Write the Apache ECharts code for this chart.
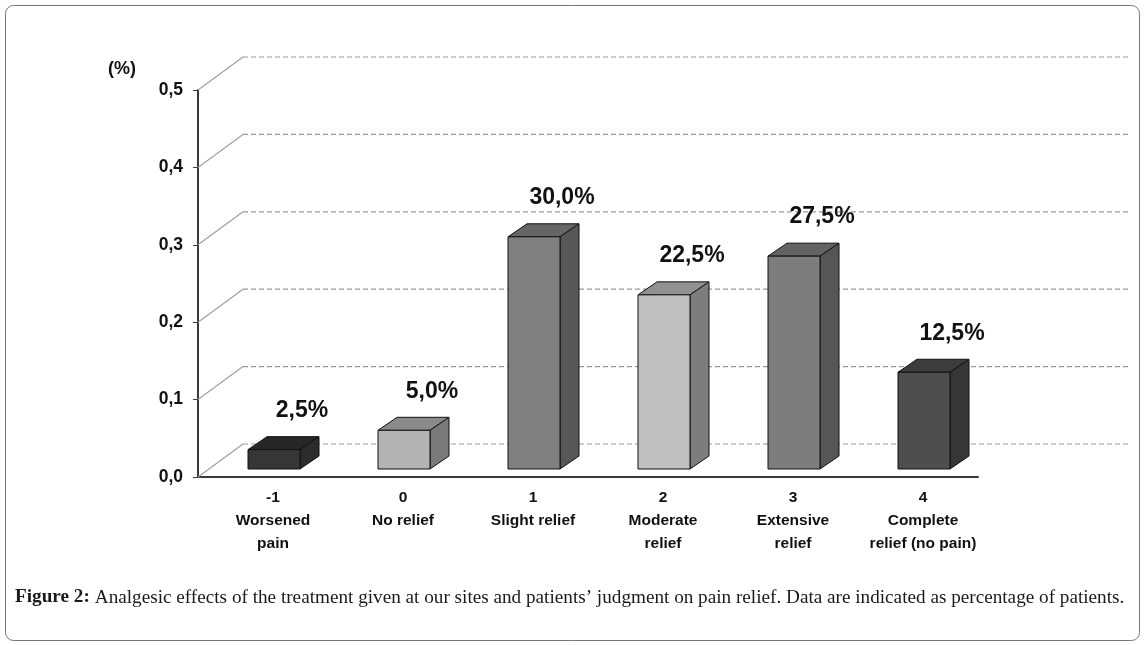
<!DOCTYPE html>
<html>
<head>
<meta charset="utf-8">
<script src="https://cdn.jsdelivr.net/npm/echarts@6/dist/echarts.min.js"></script>
<style>
html, body { margin: 0; padding: 0; background: #fff; }
#chart { width: 1144px; height: 645px; }
</style>
</head>
<body>
<div id="chart"></div>
<script>
var categories = ['-1', '0', '1', '2', '3', '4'];
var categoryNames = ['Worsened\npain', 'No relief', 'Slight relief', 'Moderate\nrelief', 'Extensive\nrelief', 'Complete\nrelief (no pain)'];
var shares = [0.025, 0.05, 0.30, 0.225, 0.275, 0.125];
var shareLabels = ['2,5%', '5,0%', '30,0%', '22,5%', '27,5%', '12,5%'];
var yTicks = [0, 0.1, 0.2, 0.3, 0.4, 0.5];
var yTickLabels = ['0,0', '0,1', '0,2', '0,3', '0,4', '0,5'];

// front / top / side shades for each box
var faceColors = [
	['#363636', '#262626', '#2c2c2c'],
	['#b3b3b3', '#8a8a8a', '#7a7a7a'],
	['#808080', '#666666', '#575757'],
	['#c0c0c0', '#919191', '#7d7d7d'],
	['#7d7d7d', '#636363', '#565656'],
	['#4e4e4e', '#3c3c3c', '#363636']
];

var depthX = 45, depthY = -33;   // wall depth
var boxX = 19, boxY = -13;       // box depth
var shiftX = 11, shiftY = -8;    // boxes sit a little into the floor
var boxW = 52;

function renderWall(params, api) {
	var rect = params.coordSys;
	var p = api.coord([0, api.value(0)]);
	var x0 = rect.x, y0 = p[1];
	return {
		type: 'group',
		children: [{
			type: 'line',
			shape: { x1: x0, y1: y0, x2: x0 + depthX, y2: y0 + depthY },
			style: { stroke: '#a0a0a0', lineWidth: 1.2 }
		}, {
			type: 'line',
			shape: { x1: x0 + depthX, y1: y0 + depthY, x2: 1130, y2: y0 + depthY },
			style: { stroke: '#9a9a9a', lineWidth: 1.2, lineDash: [5, 3] }
		}]
	};
}

function renderBox(params, api) {
	var i = api.value(0);
	var base = api.coord([i, 0]);
	var top = api.coord([i, api.value(1)]);
	var c = faceColors[i];
	var fl = base[0] - boxW / 2 + shiftX;
	var fr = fl + boxW;
	var fb = base[1] + shiftY;
	var ft = top[1] + shiftY;
	var st = { stroke: '#111', lineWidth: 1 };
	return {
		type: 'group',
		children: [{
			type: 'polygon',
			shape: { points: [[fl, ft], [fl + boxX, ft + boxY], [fr + boxX, ft + boxY], [fr, ft]] },
			style: Object.assign({ fill: c[1] }, st)
		}, {
			type: 'polygon',
			shape: { points: [[fr, ft], [fr + boxX, ft + boxY], [fr + boxX, fb + boxY], [fr, fb]] },
			style: Object.assign({ fill: c[2] }, st)
		}, {
			type: 'rect',
			shape: { x: fl, y: ft, width: boxW, height: fb - ft },
			style: Object.assign({ fill: c[0] }, st)
		}, {
			type: 'text',
			x: fr + 2,
			y: ft + boxY - 26,
			style: {
				text: shareLabels[i],
				fill: '#111',
				font: 'bold 23px "Liberation Sans", Arial, sans-serif',
				align: 'center',
				verticalAlign: 'middle'
			}
		}]
	};
}

var chart = echarts.init(document.getElementById('chart'));
var option = {
	animation: false,
	title: {
		left: 15,
		top: 588,
		padding: 0,
		text: '{b|Figure 2:} {n|Analgesic effects of the treatment given at our sites and patients\u2019 judgment on pain relief. Data are indicated as percentage of patients.}',
		textStyle: {
			fontWeight: 'normal',
			rich: {
				b: { fontFamily: '"Liberation Serif", serif', fontWeight: 'bold', fontSize: 19.2, color: '#1a1a1a' },
				n: { fontFamily: '"Liberation Serif", serif', fontWeight: 'normal', fontSize: 19.2, color: '#1a1a1a' }
			}
		}
	},
	graphic: [{
		type: 'rect',
		shape: { x: 5.5, y: 5.5, width: 1134, height: 635, r: 8 },
		style: { fill: 'none', stroke: '#777', lineWidth: 1 },
		z: -1
	}, {
		type: 'text',
		left: 108,
		top: 60,
		style: { text: '(%)', font: 'bold 18px "Liberation Sans", Arial, sans-serif', fill: '#111' }
	}],
	grid: { left: 198, top: 90, width: 780, height: 387 },
	xAxis: {
		type: 'category',
		data: categories,
		axisLine: { lineStyle: { color: '#3a3a3a', width: 2 } },
		axisTick: { length: 4, lineStyle: { color: '#3a3a3a' } },
		axisLabel: {
			interval: 0,
			margin: 9,
			formatter: function(value, idx) {
				var lines = [value].concat(categoryNames[idx].split('\n'));
				return lines.map(function(l) { return '{a|' + l + '}'; }).join('\n');
			},
			rich: {
				a: {
					fontFamily: '"Liberation Sans", Arial, sans-serif',
					fontWeight: 'bold',
					fontSize: 15.5,
					color: '#111',
					lineHeight: 23,
					padding: [0, 0, 0, 20]
				}
			}
		},
		splitLine: { show: false }
	},
	yAxis: {
		type: 'value',
		min: 0,
		max: 0.5,
		interval: 0.1,
		axisLine: { show: true, lineStyle: { color: '#3a3a3a', width: 2 } },
		axisTick: { show: true, length: 5, lineStyle: { color: '#3a3a3a' } },
		axisLabel: {
			margin: 15,
			fontFamily: '"Liberation Sans", Arial, sans-serif',
			fontWeight: 'bold',
			fontSize: 17.5,
			color: '#111',
			formatter: function(v) {
				return yTickLabels[Math.round(v * 10)];
			}
		},
		splitLine: { show: false }
	},
	series: [{
		type: 'custom',
		renderItem: renderWall,
		data: yTicks.map(function(v) { return [v]; }),
		encode: { y: 0 },
		z: 1,
		silent: true
	}, {
		type: 'custom',
		renderItem: renderBox,
		data: shares.map(function(v, i) { return [i, v]; }),
		encode: { x: 0, y: 1 },
		z: 3,
		silent: true
	}]
};
chart.setOption(option);
</script>
</body>
</html>
